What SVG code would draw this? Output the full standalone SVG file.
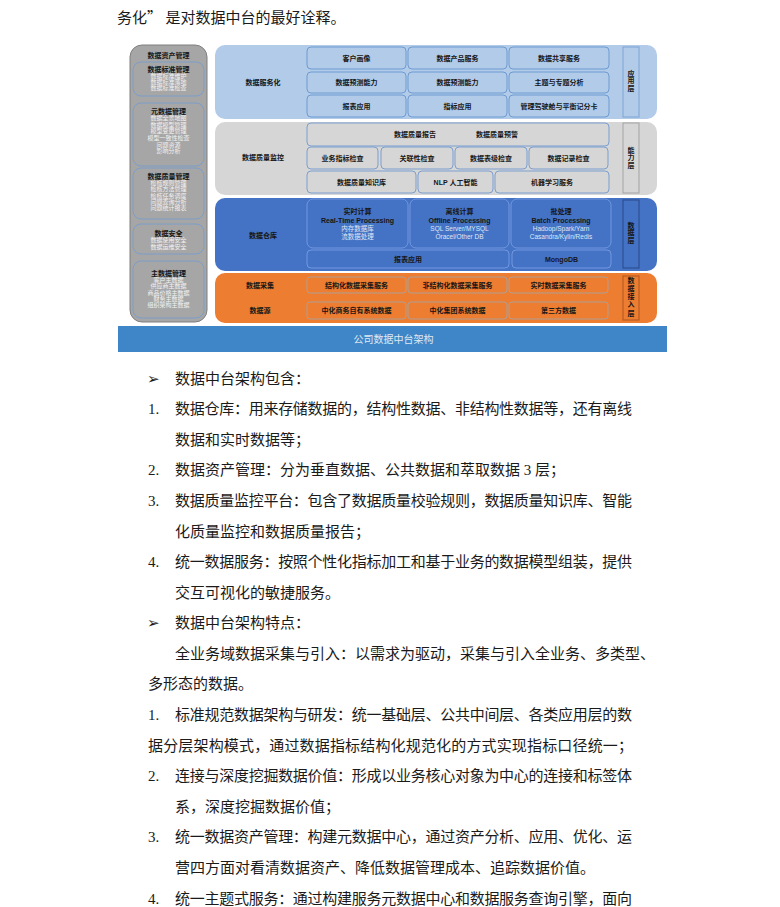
<svg xmlns="http://www.w3.org/2000/svg" width="780" height="907" viewBox="0 0 780 907">
<style>
.d{font-family:"Liberation Sans","Noto Sans CJK SC",sans-serif;text-anchor:middle}
.b7{font-size:7px;font-weight:bold;fill:#161616}
.s6{font-size:6px;fill:#f3f3f3}
.w6{font-size:6.5px;fill:#dfe8f7}
.body{font-family:"Liberation Serif","Noto Sans CJK SC",serif;font-size:15px;fill:#1a1a1a}
.bul{font-family:"DejaVu Sans",sans-serif;font-size:15px;fill:#1a1a1a}
.sub{fill:#a6a6a6;stroke:#7d9ec9;stroke-width:1}
.ib{fill:#b1cbe9;stroke:#6d9bd1;stroke-width:1}
.gb{fill:#d6d6d6;stroke:#7b9fd0;stroke-width:1}
.db{fill:#4472c4;stroke:#7398e0;stroke-width:1}
.ob{fill:#ed7d31;stroke:#b0a093;stroke-width:1}
</style>
<rect width="780" height="907" fill="#ffffff"/>
<text class="body" x="117" y="22.5">务化<tspan font-family="'Noto Sans CJK SC',sans-serif">” </tspan>是对数据中台的最好诠释。</text>

<g id="asset-mgmt">
<rect x="130" y="45" width="77" height="277" rx="12" fill="#a6a6a6" stroke="#7f7f7f"/>
<text class="d b7" x="168.5" y="57.5">数据资产管理</text>
<rect class="sub" x="133" y="62" width="71" height="34" rx="8"/>
<text class="d b7" x="168.5" y="71.5">数据标准管理</text>
<text class="d s6" x="168.5" y="77.9">数据标准维护</text>
<text class="d s6" x="168.5" y="83.8">数据标准落地</text>
<text class="d s6" x="168.5" y="89.7">数据标准检查</text>
<rect class="sub" x="133" y="103" width="71" height="63" rx="8"/>
<text class="d b7" x="168.5" y="113.5">元数据管理</text>
<text class="d s6" x="168.5" y="120.1">数据全景地图</text>
<text class="d s6" x="168.5" y="126.7">数据模型管理</text>
<text class="d s6" x="168.5" y="133.3">模型变更管理</text>
<text class="d s6" x="168.5" y="139.9">模型一致性检查</text>
<text class="d s6" x="168.5" y="146.5">问题资源</text>
<text class="d s6" x="168.5" y="153.1">影响分析</text>
<rect class="sub" x="133" y="168" width="71" height="51" rx="8"/>
<text class="d b7" x="168.5" y="179">数据质量管理</text>
<text class="d s6" x="168.5" y="185.1">检核规则管理</text>
<text class="d s6" x="168.5" y="191.4">检核方法管理</text>
<text class="d s6" x="168.5" y="197.7">检核任务调度</text>
<text class="d s6" x="168.5" y="204">问题查询分析</text>
<text class="d s6" x="168.5" y="210.3">问题统计报表</text>
<rect class="sub" x="133" y="224" width="71" height="30" rx="8"/>
<text class="d b7" x="168.5" y="235.5">数据安全</text>
<text class="d s6" x="168.5" y="242.1">数据使用安全</text>
<text class="d s6" x="168.5" y="248.6">数据运维安全</text>
<rect class="sub" x="133" y="261" width="71" height="57" rx="8"/>
<text class="d b7" x="168.5" y="275.5">主数据管理</text>
<text class="d s6" x="168.5" y="282.1">客户主数据</text>
<text class="d s6" x="168.5" y="288.4">供应商主数据</text>
<text class="d s6" x="168.5" y="294.7">商品价格主数据</text>
<text class="d s6" x="168.5" y="301">财务主数据</text>
<text class="d s6" x="168.5" y="307.3">组织架构主数据</text>
</g>

<g id="app-layer">
<rect x="215" y="45" width="442" height="74" rx="10" fill="#b1cbe9"/>
<text class="d b7" x="263" y="84.5">数据服务化</text>
<rect class="ib" x="307" y="47" width="99" height="22" rx="4"/>
<rect class="ib" x="408" y="47" width="99" height="22" rx="4"/>
<rect class="ib" x="509" y="47" width="100" height="22" rx="4"/>
<rect class="ib" x="307" y="72" width="99" height="21" rx="4"/>
<rect class="ib" x="408" y="72" width="99" height="21" rx="4"/>
<rect class="ib" x="509" y="72" width="100" height="21" rx="4"/>
<rect class="ib" x="307" y="95" width="99" height="22" rx="4"/>
<rect class="ib" x="408" y="95" width="99" height="22" rx="4"/>
<rect class="ib" x="509" y="95" width="100" height="22" rx="4"/>
<text class="d b7" x="356.5" y="60.5">客户画像</text>
<text class="d b7" x="457.5" y="60.5">数据产品服务</text>
<text class="d b7" x="559" y="60.5">数据共享服务</text>
<text class="d b7" x="356.5" y="85">数据预测能力</text>
<text class="d b7" x="457.5" y="85">数据预测能力</text>
<text class="d b7" x="559" y="85">主题与专题分析</text>
<text class="d b7" x="356.5" y="108.5">报表应用</text>
<text class="d b7" x="457.5" y="108.5">指标应用</text>
<text class="d b7" x="559" y="108.5">管理驾驶舱与平衡记分卡</text>
<rect x="623" y="47" width="16" height="70" fill="none" stroke="#7fa3d3"/>
<text class="d b7" x="631" y="75.8">应</text>
<text class="d b7" x="631" y="83.2">用</text>
<text class="d b7" x="631" y="90.5">层</text>
</g>

<g id="capability-layer">
<rect x="215" y="122" width="442" height="73" rx="10" fill="#d6d6d6"/>
<text class="d b7" x="263" y="159.5">数据质量监控</text>
<rect class="gb" x="307" y="123" width="302" height="23" rx="4"/>
<text class="d b7" x="415" y="137">数据质量报告</text>
<text class="d b7" x="497" y="137">数据质量预警</text>
<rect class="gb" x="307" y="147" width="71" height="22" rx="4"/>
<rect class="gb" x="381" y="147" width="72" height="22" rx="4"/>
<rect class="gb" x="455" y="147" width="72" height="22" rx="4"/>
<rect class="gb" x="529" y="147" width="79" height="22" rx="4"/>
<text class="d b7" x="342.5" y="160.5">业务指标检查</text>
<text class="d b7" x="417" y="160.5">关联性检查</text>
<text class="d b7" x="491" y="160.5">数据表级检查</text>
<text class="d b7" x="568.5" y="160.5">数据记录检查</text>
<rect class="gb" x="307" y="171" width="109" height="22" rx="4"/>
<rect class="gb" x="418" y="171" width="75" height="22" rx="4"/>
<rect class="gb" x="495" y="171" width="114" height="22" rx="4"/>
<text class="d b7" x="361.5" y="184.5">数据质量知识库</text>
<text class="d b7" x="455.5" y="184.5">NLP 人工智能</text>
<text class="d b7" x="552" y="184.5">机器学习服务</text>
<rect x="623" y="123" width="16" height="70" fill="none" stroke="#a3a3a3"/>
<text class="d b7" x="631" y="152.5">能</text>
<text class="d b7" x="631" y="160">力</text>
<text class="d b7" x="631" y="167.5">层</text>
</g>

<g id="data-layer">
<rect x="215" y="198" width="442" height="73" rx="10" fill="#4472c4"/>
<text class="d b7" x="263" y="237.5">数据仓库</text>
<rect class="db" x="307" y="199" width="101" height="49" rx="6"/>
<rect class="db" x="410" y="199" width="99" height="49" rx="6"/>
<rect class="db" x="511" y="199" width="100" height="49" rx="6"/>
<text class="d b7" x="357.5" y="213.5">实时计算</text>
<text class="d b7" x="357.5" y="222.5">Real-Time Processing</text>
<text class="d w6" x="357.5" y="230.8">内存数据库</text>
<text class="d w6" x="357.5" y="238.8">流数据处理</text>
<text class="d b7" x="459.5" y="213.5">离线计算</text>
<text class="d b7" x="459.5" y="222.5">Offline Processing</text>
<text class="d w6" x="459.5" y="230.8">SQL Server/MYSQL</text>
<text class="d w6" x="459.5" y="238.8">Oracel/Other DB</text>
<text class="d b7" x="561" y="213.5">批处理</text>
<text class="d b7" x="561" y="222.5">Batch Processing</text>
<text class="d w6" x="561" y="230.8">Hadoop/Spark/Yarn</text>
<text class="d w6" x="561" y="238.8">Casandra/Kylin/Redis</text>
<rect class="db" x="307" y="250" width="202" height="18" rx="4"/>
<rect class="db" x="512" y="250" width="99" height="18" rx="4"/>
<text class="d b7" x="408" y="261.5">报表应用</text>
<text class="d b7" x="561.5" y="261.5">MongoDB</text>
<rect x="623" y="200" width="16" height="68" fill="none" stroke="#284a88"/>
<text class="d b7" x="631" y="227.5">数</text>
<text class="d b7" x="631" y="235.2">据</text>
<text class="d b7" x="631" y="243">层</text>
</g>

<g id="access-layer">
<rect x="215" y="273" width="442" height="50" rx="10" fill="#ed7d31"/>
<text class="d b7" x="260" y="287.5">数据采集</text>
<text class="d b7" x="260" y="313">数据源</text>
<rect class="ob" x="307" y="277" width="99" height="16" rx="3"/>
<rect class="ob" x="408" y="277" width="99" height="16" rx="3"/>
<rect class="ob" x="509" y="277" width="99" height="16" rx="3"/>
<rect class="ob" x="307" y="302" width="99" height="17" rx="3"/>
<rect class="ob" x="408" y="302" width="99" height="17" rx="3"/>
<rect class="ob" x="509" y="302" width="99" height="17" rx="3"/>
<text class="d b7" x="356.5" y="287.5">结构化数据采集服务</text>
<text class="d b7" x="457.5" y="287.5">非结构化数据采集服务</text>
<text class="d b7" x="558.5" y="287.5">实时数据采集服务</text>
<text class="d b7" x="356.5" y="313">中化商务自有系统数据</text>
<text class="d b7" x="457.5" y="313">中化集团系统数据</text>
<text class="d b7" x="558.5" y="313">第三方数据</text>
<rect x="623" y="276" width="16" height="44" fill="none" stroke="#b0561f"/>
<text class="d b7" x="631" y="282.5">数</text>
<text class="d b7" x="631" y="290.8">据</text>
<text class="d b7" x="631" y="299.1">接</text>
<text class="d b7" x="631" y="307.4">入</text>
<text class="d b7" x="631" y="315.7">层</text>
</g>

<g id="title-bar">
<rect x="118" y="326" width="549" height="26" fill="#3f86c8"/>
<text x="393.5" y="343" text-anchor="middle" font-family="'Noto Sans CJK SC',sans-serif" font-size="10" fill="#dfe9f3">公司数据中台架构</text>
</g>

<g id="body-text">
<text class="bul" x="147" y="383.5">➢</text>
<text class="body" x="175" y="383.5">数据中台架构包含：</text>
<text class="body" x="148" y="414.1">1.</text>
<text class="body" x="175" y="414.1" textLength="457" lengthAdjust="spacing">数据仓库：用来存储数据的，结构性数据、非结构性数据等，还有离线</text>
<text class="body" x="175" y="444.7">数据和实时数据等；</text>
<text class="body" x="148" y="475.3">2.</text>
<text class="body" x="175" y="475.3">数据资产管理：分为垂直数据、公共数据和萃取数据 3 层；</text>
<text class="body" x="148" y="505.9">3.</text>
<text class="body" x="175" y="505.9" textLength="457" lengthAdjust="spacing">数据质量监控平台：包含了数据质量校验规则，数据质量知识库、智能</text>
<text class="body" x="175" y="536.5">化质量监控和数据质量报告；</text>
<text class="body" x="148" y="567.1">4.</text>
<text class="body" x="175" y="567.1" textLength="457" lengthAdjust="spacing">统一数据服务：按照个性化指标加工和基于业务的数据模型组装，提供</text>
<text class="body" x="175" y="597.6">交互可视化的敏捷服务。</text>
<text class="bul" x="147" y="628.2">➢</text>
<text class="body" x="175" y="628.2">数据中台架构特点：</text>
<text class="body" x="175" y="658.8" textLength="480" lengthAdjust="spacing">全业务域数据采集与引入：以需求为驱动，采集与引入全业务、多类型、</text>
<text class="body" x="148" y="689.4">多形态的数据。</text>
<text class="body" x="148" y="720">1.</text>
<text class="body" x="175" y="720" textLength="457" lengthAdjust="spacing">标准规范数据架构与研发：统一基础层、公共中间层、各类应用层的数</text>
<text class="body" x="148" y="750.6" textLength="485" lengthAdjust="spacing">据分层架构模式，通过数据指标结构化规范化的方式实现指标口径统一；</text>
<text class="body" x="148" y="781.2">2.</text>
<text class="body" x="175" y="781.2" textLength="457" lengthAdjust="spacing">连接与深度挖掘数据价值：形成以业务核心对象为中心的连接和标签体</text>
<text class="body" x="175" y="811.8">系，深度挖掘数据价值；</text>
<text class="body" x="148" y="842.4">3.</text>
<text class="body" x="175" y="842.4" textLength="457" lengthAdjust="spacing">统一数据资产管理：构建元数据中心，通过资产分析、应用、优化、运</text>
<text class="body" x="175" y="873">营四方面对看清数据资产、降低数据管理成本、追踪数据价值。</text>
<text class="body" x="148" y="903.6">4.</text>
<text class="body" x="175" y="903.6" textLength="457" lengthAdjust="spacing">统一主题式服务：通过构建服务元数据中心和数据服务查询引擎，面向</text>
</g>
</svg>
